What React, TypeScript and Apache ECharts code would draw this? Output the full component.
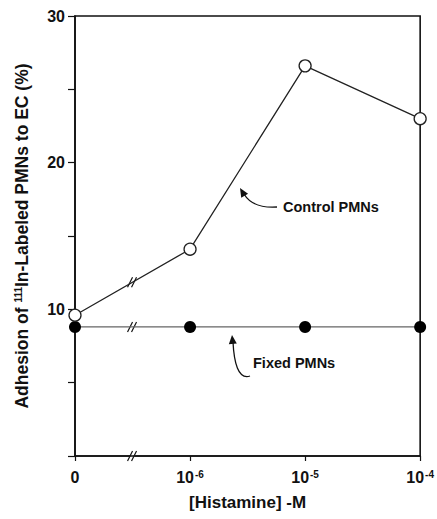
import React, { useEffect, useRef } from "react";
import * as echarts from "echarts";

const xTickLabels = ["0", "10^-6", "10^-5", "10^-4"];
const xPositions = [0, 1, 2, 3];
const controlValues = [9.6, 14.1, 26.6, 23.0];
const fixedValues = [8.8, 8.8, 8.8, 8.8];
const yLabelValues = [10, 20, 30];

const FONT = "Liberation Sans, Arial, Helvetica, sans-serif";

function arrowHead(tip: number[], from: number[], len: number, half: number) {
  const dx = tip[0] - from[0];
  const dy = tip[1] - from[1];
  const d = Math.sqrt(dx * dx + dy * dy);
  const ux = dx / d, uy = dy / d;
  const bx = tip[0] - ux * len, by = tip[1] - uy * len;
  return [
    [tip[0], tip[1]],
    [bx - uy * half, by + ux * half],
    [bx + uy * half, by - ux * half],
  ];
}

export default function App() {
  const ref = useRef<HTMLDivElement>(null);
  useEffect(() => {
    if (!ref.current) return;
    const chart = echarts.init(ref.current, undefined, { renderer: "svg" });
    const controlData = xPositions.map((x, i) => [x, controlValues[i]]);
    const fixedData = xPositions.map((x, i) => [x, fixedValues[i]]);
    chart.setOption({
      animation: false,
      grid: {
        left: 75,
        right: 16,
        top: 16,
        bottom: 63,
        show: true,
        borderColor: "#111",
        borderWidth: 1.6,
        containLabel: false,
      },
      xAxis: {
        type: "value",
        min: 0,
        max: 3,
        interval: 1,
        name: "[Histamine] -M",
        nameLocation: "middle",
        nameGap: 38,
        nameTextStyle: { fontFamily: FONT, fontSize: 17, fontWeight: "bold", color: "#111" },
        axisLine: { show: true, lineStyle: { color: "#111", width: 1.6 } },
        axisTick: { show: true, length: 5, lineStyle: { color: "#111", width: 1.2 } },
        splitLine: { show: false },
        axisLabel: {
          margin: 13,
          color: "#111",
          fontFamily: FONT,
          fontSize: 16,
          fontWeight: "bold",
          formatter: (v: number) => {
            const lab = xTickLabels[xPositions.indexOf(Math.round(v))] || "";
            if (lab.indexOf("^") >= 0) {
              const [b, e] = lab.split("^");
              return `{b|${b}}{e|${e}}`;
            }
            return `{b|${lab}}`;
          },
          rich: {
            b: { fontFamily: FONT, fontSize: 16, fontWeight: "bold", color: "#111" },
            e: { fontFamily: FONT, fontSize: 10, fontWeight: "bold", color: "#111", verticalAlign: "top", padding: [0, 0, 0, 1] },
          },
        },
      },
      yAxis: {
        type: "value",
        min: 0,
        max: 30,
        interval: 5,
        name: "{t|Adhesion of }{s|111}{t|In-Labeled PMNs to EC (%)}",
        nameLocation: "middle",
        nameGap: 44,
        nameRotate: 90,
        nameTextStyle: {
          fontFamily: FONT,
          fontSize: 17,
          fontWeight: "bold",
          color: "#111",
          rich: {
            t: { fontFamily: FONT, fontSize: 17.5, fontWeight: "bold", color: "#111" },
            s: { fontFamily: FONT, fontSize: 10, fontWeight: "bold", color: "#111", verticalAlign: "top" },
          },
        },
        axisLine: { show: true, lineStyle: { color: "#111", width: 1.6 } },
        axisTick: { show: true, length: 7, lineStyle: { color: "#111", width: 1.2 } },
        splitLine: { show: false },
        axisLabel: {
          margin: 10,
          color: "#111",
          fontFamily: FONT,
          fontSize: 16,
          fontWeight: "bold",
          formatter: (v: number) => (yLabelValues.indexOf(v) >= 0 ? String(v) : ""),
        },
      },
      series: [
        {
          name: "Fixed PMNs",
          type: "line",
          data: fixedData,
          symbol: "circle",
          symbolSize: 12,
          lineStyle: { color: "#666", width: 1.3 },
          itemStyle: { color: "#000", borderColor: "#000", borderWidth: 0 },
          z: 3,
        },
        {
          name: "Control PMNs",
          type: "line",
          data: controlData,
          symbol: "circle",
          symbolSize: 12,
          lineStyle: { color: "#222", width: 1.3 },
          itemStyle: { color: "#fff", borderColor: "#222", borderWidth: 1.3 },
          z: 4,
        },
      ],
    });

    const breakX = 0.5;
    const ctrlBreakY = (controlValues[0] + controlValues[1]) / 2;
    const breakPts = [
      chart.convertToPixel({ gridIndex: 0 }, [breakX, 0]) as number[],
      chart.convertToPixel({ gridIndex: 0 }, [breakX, ctrlBreakY]) as number[],
      chart.convertToPixel({ gridIndex: 0 }, [breakX, fixedValues[0]]) as number[],
    ];
    const breakGraphics = breakPts.map((p) => ({
      type: "group",
      x: p[0],
      y: p[1],
      z: 10,
      children: [
        { type: "rect", shape: { x: -2, y: -4, width: 4, height: 8 }, rotation: -0.5, style: { fill: "#fff" } },
        { type: "line", shape: { x1: -5, y1: 5, x2: 0, y2: -5 }, style: { stroke: "#111", lineWidth: 1.2 } },
        { type: "line", shape: { x1: -1, y1: 5, x2: 4, y2: -5 }, style: { stroke: "#111", lineWidth: 1.2 } },
      ],
    }));

    const ctrlHead = arrowHead([240, 188], [246, 198], 9, 4);
    const fixHead = arrowHead([232, 335], [233, 346], 9, 4);

    chart.setOption({
      graphic: [
        ...breakGraphics,
        {
          type: "text",
          x: 283,
          y: 207,
          style: { text: "Control PMNs", font: `bold 14.5px ${FONT}`, fill: "#111", verticalAlign: "middle" },
        },
        {
          type: "bezierCurve",
          shape: { x1: 277, y1: 207, cpx1: 262, cpy1: 208, cpx2: 250, cpy2: 204, x2: 244, y2: 194 },
          style: { stroke: "#111", lineWidth: 1.3, fill: "none" },
        },
        { type: "polygon", shape: { points: ctrlHead }, style: { fill: "#111" } },
        {
          type: "text",
          x: 253,
          y: 363,
          style: { text: "Fixed PMNs", font: `bold 14.5px ${FONT}`, fill: "#111", verticalAlign: "middle" },
        },
        {
          type: "bezierCurve",
          shape: { x1: 233, y1: 342, cpx1: 234, cpy1: 362, cpx2: 238, cpy2: 380, x2: 250, y2: 376 },
          style: { stroke: "#111", lineWidth: 1.3, fill: "none" },
        },
        { type: "polygon", shape: { points: fixHead }, style: { fill: "#111" } },
      ],
    });

    return () => chart.dispose();
  }, []);
  return <div ref={ref} style={{ position: "absolute", left: 0, top: 0, width: 437, height: 519 }} />;
}
